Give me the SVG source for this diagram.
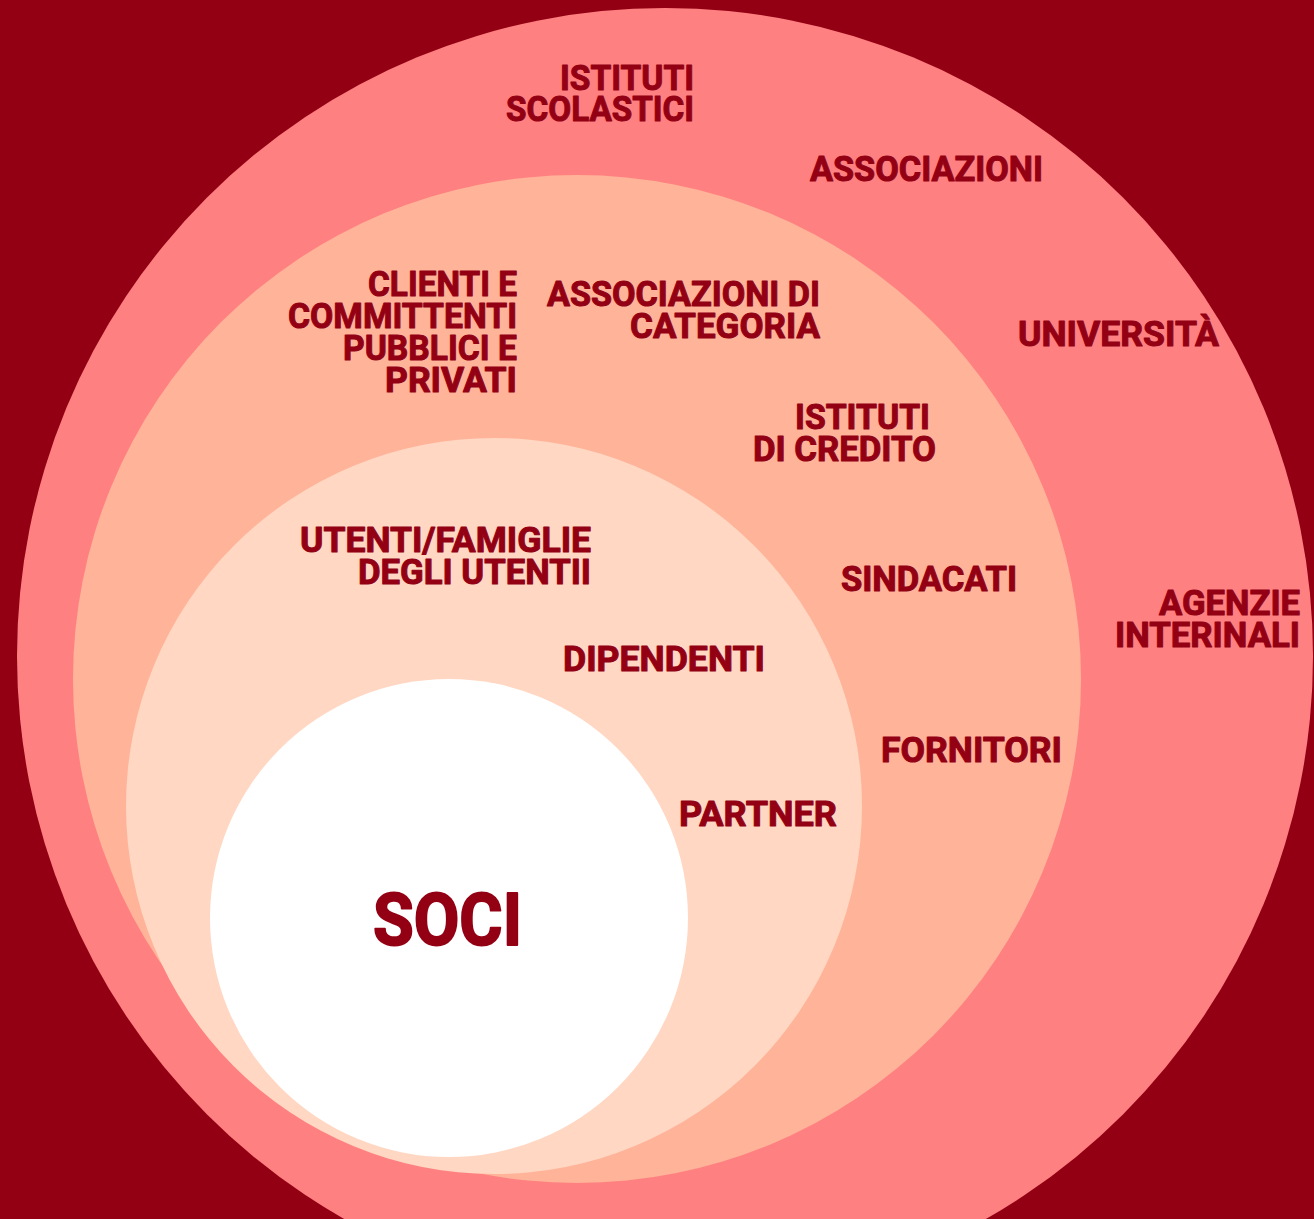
<svg xmlns="http://www.w3.org/2000/svg" width="1314" height="1219" viewBox="0 0 1314 1219">
<style>
.t{font-family:"Roboto","Liberation Sans",Arial,sans-serif;font-weight:700;font-size:35px;fill:#930014;stroke:#930014;stroke-width:1;stroke-linejoin:round}
.big{font-size:73px;stroke-width:2}
</style>
<rect x="0" y="0" width="1314" height="1219" fill="#930014"/>
<g id="ring-outer">
<circle cx="665" cy="656" r="648" fill="#FF8080"/>
</g>
<g id="ring-middle">
<circle cx="577" cy="679" r="504" fill="#FFB399"/>
</g>
<g id="ring-inner">
<circle cx="494" cy="806" r="368" fill="#FFD7C2"/>
</g>
<g id="soci">
<circle cx="449" cy="918" r="239" fill="#FFFFFF"/>
<text class="t big" x="373" y="945" textLength="149" lengthAdjust="spacingAndGlyphs">SOCI</text>
</g>
<g id="connectors"></g>
<g id="label-istituti-scolastici">
<text class="t"><tspan x="560" y="90" textLength="134" lengthAdjust="spacingAndGlyphs">ISTITUTI</tspan><tspan x="506" y="121" textLength="188" lengthAdjust="spacingAndGlyphs">SCOLASTICI</tspan></text>
</g>
<g id="label-associazioni">
<text class="t" x="810" y="181" textLength="233" lengthAdjust="spacingAndGlyphs">ASSOCIAZIONI</text>
</g>
<g id="label-clienti">
<text class="t"><tspan x="368" y="296" textLength="149" lengthAdjust="spacingAndGlyphs">CLIENTI E</tspan><tspan x="288" y="328" textLength="229" lengthAdjust="spacingAndGlyphs">COMMITTENTI</tspan><tspan x="343" y="360" textLength="174" lengthAdjust="spacingAndGlyphs">PUBBLICI E</tspan><tspan x="385" y="392" textLength="132" lengthAdjust="spacingAndGlyphs">PRIVATI</tspan></text>
</g>
<g id="label-associazioni-categoria">
<text class="t"><tspan x="547" y="306" textLength="273" lengthAdjust="spacingAndGlyphs">ASSOCIAZIONI DI</tspan><tspan x="630" y="338" textLength="190" lengthAdjust="spacingAndGlyphs">CATEGORIA</tspan></text>
</g>
<g id="label-universita">
<text class="t" x="1018" y="346" textLength="201" lengthAdjust="spacingAndGlyphs">UNIVERSITÀ</text>
</g>
<g id="label-istituti-credito">
<text class="t"><tspan x="795" y="429" textLength="135" lengthAdjust="spacingAndGlyphs">ISTITUTI</tspan><tspan x="753" y="461" textLength="183" lengthAdjust="spacingAndGlyphs">DI CREDITO</tspan></text>
</g>
<g id="label-sindacati">
<text class="t" x="841" y="591" textLength="176" lengthAdjust="spacingAndGlyphs">SINDACATI</text>
</g>
<g id="label-agenzie">
<text class="t"><tspan x="1159" y="615" textLength="141" lengthAdjust="spacingAndGlyphs">AGENZIE</tspan><tspan x="1115" y="647" textLength="185" lengthAdjust="spacingAndGlyphs">INTERINALI</tspan></text>
</g>
<g id="label-utenti">
<text class="t"><tspan x="300" y="552" textLength="291" lengthAdjust="spacingAndGlyphs">UTENTI/FAMIGLIE</tspan><tspan x="358" y="584" textLength="233" lengthAdjust="spacingAndGlyphs">DEGLI UTENTII</tspan></text>
</g>
<g id="label-dipendenti">
<text class="t" x="563" y="671" textLength="202" lengthAdjust="spacingAndGlyphs">DIPENDENTI</text>
</g>
<g id="label-fornitori">
<text class="t" x="881" y="762" textLength="181" lengthAdjust="spacingAndGlyphs">FORNITORI</text>
</g>
<g id="label-partner">
<text class="t" x="679" y="826" textLength="158" lengthAdjust="spacingAndGlyphs">PARTNER</text>
</g>
</svg>
